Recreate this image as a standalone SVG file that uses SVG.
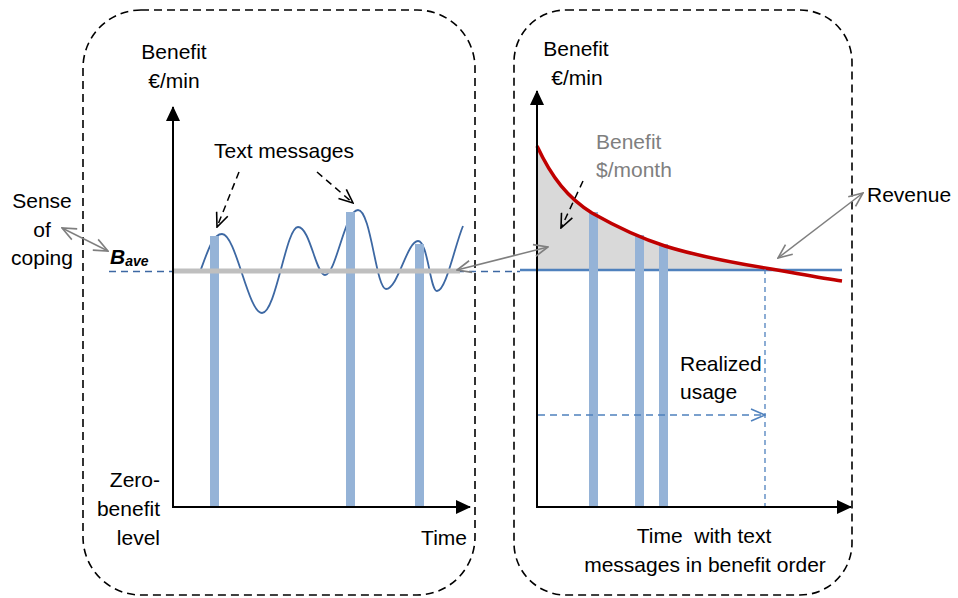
<svg xmlns="http://www.w3.org/2000/svg" width="958" height="598" viewBox="0 0 958 598">
<defs>
<style>
text{font-family:"Liberation Sans",Arial,sans-serif;font-size:21px;fill:#000}
.box{fill:none;stroke:#000;stroke-width:1.6;stroke-dasharray:8 5}
.axis{stroke:#000;stroke-width:2;fill:none}
.bar{fill:#95b3d7}
.garrow{stroke:#7f7f7f;stroke-width:1.5;fill:none;marker-start:url(#ga);marker-end:url(#ga)}
.karrow{stroke:#000;stroke-width:1.5;fill:none;stroke-dasharray:7 5;marker-end:url(#ka)}
</style>
<marker id="axh" markerWidth="15" markerHeight="14" refX="14" refY="7" orient="auto" markerUnits="userSpaceOnUse" viewBox="0 0 15 14">
<path d="M0,0 L15,7 L0,14 Z" fill="#000"/>
</marker>
<marker id="ga" markerWidth="16" markerHeight="14" refX="15" refY="7" orient="auto-start-reverse" markerUnits="userSpaceOnUse" viewBox="0 0 16 14">
<path d="M1,1 L15,7 L1,13" fill="none" stroke="#7f7f7f" stroke-width="1.6"/>
</marker>
<marker id="ka" markerWidth="16" markerHeight="14" refX="15" refY="7" orient="auto" markerUnits="userSpaceOnUse" viewBox="0 0 16 14">
<path d="M1,1 L15,7 L1,13" fill="none" stroke="#000" stroke-width="1.6"/>
</marker>
<marker id="ba" markerWidth="16" markerHeight="14" refX="15" refY="7" orient="auto" markerUnits="userSpaceOnUse" viewBox="0 0 16 14">
<path d="M1,1 L15,7 L1,13" fill="none" stroke="#4f81bd" stroke-width="1.5"/>
</marker>
</defs>
<rect width="958" height="598" fill="#fff"/>

<g id="left-panel">
<rect class="box" x="83" y="10" width="392" height="585" rx="58" ry="58"/>
</g>
<g id="right-panel">
<rect class="box" x="514" y="10" width="338" height="585" rx="52" ry="52"/>
</g>

<g id="left-plot">
<path d="M200,272 C208,250 213,234 222,234 C236,234 248,313 262,313 C276,313 286,227 298,227 C310,227 316,275 325,275 C336,275 345,210 358,210 C371,210 376,289 386,289 C398,289 407,241 418,241 C428,241 430,291 437,291 C446,291 455,245 463,226" fill="none" stroke="#3d68a3" stroke-width="1.8"/>
<rect class="bar" x="210" y="236" width="9" height="271"/>
<rect class="bar" x="346" y="212" width="9" height="295"/>
<rect class="bar" x="415" y="244" width="9" height="263"/>
<line x1="109" y1="271.5" x2="520" y2="271.5" stroke="#3d68a3" stroke-width="1.6" stroke-dasharray="7 5"/>
<line x1="173" y1="271" x2="460" y2="271" stroke="#bfbfbf" stroke-width="5"/>
<line class="axis" x1="173" y1="508" x2="173" y2="107" marker-end="url(#axh)"/>
<line class="axis" x1="172" y1="507" x2="470" y2="507" marker-end="url(#axh)"/>
</g>

<g id="right-plot">
<path d="M537,146 C552,178 568,198 592,213 C615,226 640,238 665,246 C700,257 735,263 765,268 L765,271 L537,271 Z" fill="#d9d9d9"/>
<line x1="520" y1="270" x2="842" y2="270" stroke="#4f81bd" stroke-width="2.5"/>
<rect class="bar" x="589" y="212" width="9" height="295"/>
<rect class="bar" x="635" y="235" width="9" height="272"/>
<rect class="bar" x="659" y="244" width="9" height="263"/>
<path d="M537,146 C552,178 568,198 592,213 C615,226 640,238 665,246 C700,257 735,263 765,268 C795,273 820,278 842,281" fill="none" stroke="#c00000" stroke-width="3.5"/>
<line x1="765" y1="269" x2="765" y2="507" stroke="#4f81bd" stroke-width="1.3" stroke-dasharray="5 4"/>
<line x1="538" y1="415" x2="765" y2="415" stroke="#4f81bd" stroke-width="1.3" stroke-dasharray="7 5" marker-end="url(#ba)"/>
<line class="axis" x1="537" y1="508" x2="537" y2="91" marker-end="url(#axh)"/>
<line class="axis" x1="536" y1="507" x2="851" y2="507" marker-end="url(#axh)"/>
</g>

<g id="connectors">
<line class="garrow" x1="62" y1="228" x2="108" y2="251"/>
<line class="garrow" x1="457" y1="270" x2="548" y2="247"/>
<line class="garrow" x1="863" y1="193" x2="778" y2="258"/>
<line class="karrow" x1="239" y1="172" x2="217" y2="227"/>
<line class="karrow" x1="317" y1="172" x2="353" y2="203"/>
<line class="karrow" x1="583" y1="181" x2="561" y2="228"/>
</g>

<g id="labels">
<text x="174" y="59" text-anchor="middle">Benefit</text>
<text x="174" y="88" text-anchor="middle">€/min</text>
<text x="284" y="158" text-anchor="middle">Text messages</text>
<text x="42" y="208" text-anchor="middle">Sense</text>
<text x="42" y="237" text-anchor="middle">of</text>
<text x="42" y="265" text-anchor="middle">coping</text>
<text x="110" y="264" font-weight="bold" font-style="italic">B<tspan font-size="14" dy="2">ave</tspan></text>
<text x="160" y="487" text-anchor="end">Zero-</text>
<text x="160" y="516" text-anchor="end">benefit</text>
<text x="160" y="545" text-anchor="end">level</text>
<text x="467" y="545" text-anchor="end">Time</text>
<text x="576" y="56" text-anchor="middle">Benefit</text>
<text x="577" y="85" text-anchor="middle">€/min</text>
<text x="596" y="149" style="fill:#7f7f7f">Benefit</text>
<text x="596" y="177" style="fill:#7f7f7f">$/month</text>
<text x="867" y="202">Revenue</text>
<text x="680" y="371">Realized</text>
<text x="680" y="399">usage</text>
<text x="704" y="543" text-anchor="middle">Time&#160; with text</text>
<text x="705" y="572" text-anchor="middle">messages in benefit order</text>
</g>
</svg>
